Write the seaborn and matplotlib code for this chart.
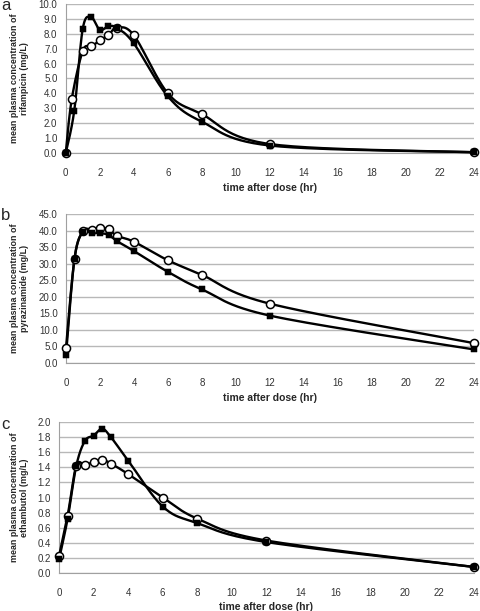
import numpy as np
import pandas as pd
import matplotlib
matplotlib.use("Agg")
import matplotlib.pyplot as plt
import seaborn as sns

# ---- data ----
# rifampicin (panel a)
rif_t_sq = [0, 0.5, 1, 1.5, 2, 2.5, 3, 4, 6, 8, 12, 24]
rif_sq = [0.0, 2.85, 8.35, 9.1, 8.25, 8.5, 8.4, 7.35, 3.8, 2.1, 0.5, 0.05]
rif_t_ci = [0, 0.35, 1, 1.5, 2, 2.5, 3, 4, 6, 8, 12, 24]
rif_ci = [0.0, 3.6, 6.85, 7.15, 7.55, 7.9, 8.4, 7.9, 4.0, 2.6, 0.6, 0.05]

# pyrazinamide (panel b)
pza_t = [0, 0.5, 1, 1.5, 2, 2.5, 3, 4, 6, 8, 12, 24]
pza_sq = [2.3, 31.5, 39.7, 39.3, 39.2, 38.7, 36.8, 33.8, 27.5, 22.2, 14.3, 4.1]
pza_ci = [4.5, 31.5, 39.8, 40.3, 40.8, 40.4, 38.4, 36.6, 31.0, 26.6, 17.9, 6.0]

# ethambutol (panel c)
emb_t = [0, 0.5, 1, 1.5, 2, 2.5, 3, 4, 6, 8, 12, 24]
emb_sq = [0.18, 0.72, 1.42, 1.75, 1.82, 1.91, 1.8, 1.49, 0.88, 0.66, 0.41, 0.08]
emb_ci = [0.22, 0.76, 1.42, 1.43, 1.47, 1.50, 1.45, 1.31, 1.0, 0.72, 0.43, 0.08]

x_ticks = list(range(0, 25, 2))

sns.set_style("white")
plt.rcParams['font.family'] = ['Liberation Sans', 'DejaVu Sans']


def smooth(x, y, xmax, ymax, n=30):
    # Excel-style smoothed line (cubic Bezier through the points, screen-scaled)
    px = np.asarray(x, float) / xmax
    py = np.asarray(y, float) / ymax * 0.37
    pts = np.column_stack([px, py])
    out = []
    for i in range(len(pts) - 1):
        p0 = pts[max(i - 1, 0)]
        p1 = pts[i]
        p2 = pts[i + 1]
        p3 = pts[min(i + 2, len(pts) - 1)]
        c1 = p1 + (p2 - p0) / 6
        c2 = p2 - (p3 - p1) / 6
        s = np.linspace(0, 1, n)[:, None]
        seg = ((1 - s) ** 3) * p1 + 3 * ((1 - s) ** 2) * s * c1 + 3 * (1 - s) * s ** 2 * c2 + s ** 3 * p2
        out.append(seg)
    out = np.vstack(out)
    return out[:, 0] * xmax, out[:, 1] / 0.37 * ymax


fig = plt.figure(figsize=(4.8, 6.11), dpi=100)
panels = [
    ([0.137, 0.7496, 0.851, 0.2439], 'a', rif_t_sq, rif_sq, rif_t_ci, rif_ci,
     10.0, 1.0, "mean plasma concentration of\nrifampicin (mg/L)"),
    ([0.1375, 0.4059, 0.85, 0.2439], 'b', pza_t, pza_sq, pza_t, pza_ci,
     45.0, 5.0, "mean plasma concentration of\npyrazinamide (mg/L)"),
    ([0.1229, 0.0622, 0.8646, 0.2471], 'c', emb_t, emb_sq, emb_t, emb_ci,
     2.0, 0.2, "mean plasma concentration of\nethambutol (mg/L)"),
]

for rect, letter, tsq, ysq, tci, yci, ymax, ystep, ylab in panels:
    ax = fig.add_axes(rect)
    ax.set_xlim(0, 24)
    ax.set_ylim(0, ymax)
    yt = np.round(np.arange(0, ymax + ystep / 2, ystep), 2)
    ax.set_yticks(yt)
    ax.set_yticklabels([f"{v:.1f}" for v in yt])
    ax.set_xticks(x_ticks)
    ax.yaxis.grid(True, color='#b8b8b8', linewidth=1.0)
    ax.set_axisbelow(True)
    for side in ['top', 'right']:
        ax.spines[side].set_visible(False)
    ax.spines['left'].set_color('#a0a0a0')
    ax.spines['bottom'].set_color('#a0a0a0')
    ax.tick_params(axis='x', length=3, color='#a0a0a0', labelsize=7, pad=8, labelcolor='#333333')
    ax.tick_params(axis='y', length=0, labelsize=7, pad=6, labelcolor='#333333')

    sx, sy = smooth(tci, yci, 24, ymax)
    ax.plot(sx, sy, color='black', lw=1.7, zorder=3, clip_on=False)
    sx, sy = smooth(tsq, ysq, 24, ymax)
    ax.plot(sx, sy, color='black', lw=1.7, zorder=3, clip_on=False)

    sns.scatterplot(x=tci, y=yci, ax=ax, marker='o', s=34, facecolor='white',
                    edgecolor='black', linewidth=1.1, zorder=4, clip_on=False, legend=False)
    sns.scatterplot(x=tsq, y=ysq, ax=ax, marker='s', s=20, color='black',
                    edgecolor='black', zorder=5, clip_on=False, legend=False)

    ax.set_xlabel("time after dose (hr)", fontsize=7.5, fontweight='bold')
    ax.xaxis.set_label_coords(0.5, -0.2 if letter != 'c' else -0.19)
    ax.set_ylabel(ylab, fontsize=6.4, fontweight='bold', linespacing=1.15)
    ax.yaxis.set_label_coords(-(rect[0] * 480 - 29) / (rect[2] * 480), 0.5)
    fig.text(1 / 480, rect[1] + rect[3] - 2 / 611, letter, fontsize=12,
             ha='left', va='center')

plt.savefig("out.png", dpi=100)
